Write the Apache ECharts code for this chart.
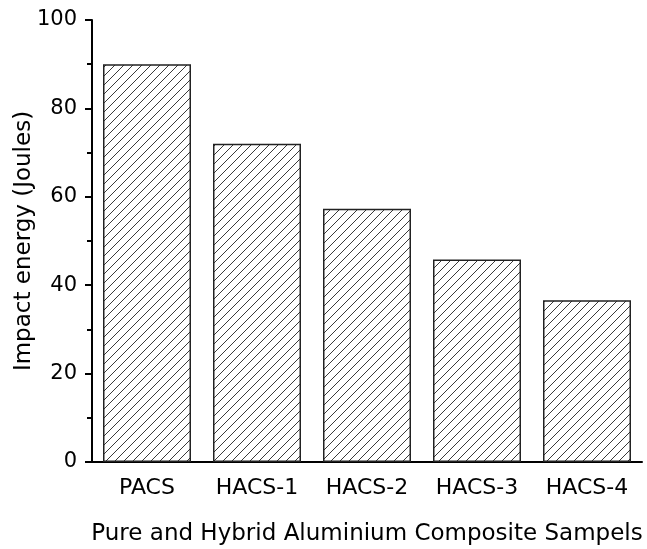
<!DOCTYPE html>
<html>
<head>
<meta charset="utf-8">
<script src="https://cdn.jsdelivr.net/npm/echarts@6/dist/echarts.min.js"></script>
<style>
  html, body { margin: 0; padding: 0; background: #fff; }
  #chart { width: 647px; height: 549px; }
</style>
</head>
<body>
<div id="chart"></div>
<script>
// Impact energy of pure and hybrid aluminium composite samples
const categories = ['PACS', 'HACS-1', 'HACS-2', 'HACS-3', 'HACS-4'];
const impactEnergy = [90, 72, 57.3, 45.8, 36.6];
const yTicks = [0, 20, 40, 60, 80, 100];

// Diagonal hatch tile for the bar fill
function hatchTile(size, color) {
  const c = document.createElement('canvas');
  c.width = size; c.height = size;
  const ctx = c.getContext('2d');
  ctx.fillStyle = '#fff';
  ctx.fillRect(0, 0, size, size);
  ctx.strokeStyle = color;
  ctx.lineWidth = 1;
  ctx.beginPath();
  ctx.moveTo(-1, size + 1); ctx.lineTo(size + 1, -1);
  ctx.moveTo(-2, 2); ctx.lineTo(2, -2);
  ctx.moveTo(size - 2, size + 2); ctx.lineTo(size + 2, size - 2);
  ctx.stroke();
  return c;
}

const font = 'DejaVu Sans';
const chart = echarts.init(document.getElementById('chart'), null, { renderer: 'canvas' });

chart.setOption({
  animation: false,
  backgroundColor: '#fff',
  grid: { left: 92, right: 5, top: 20, bottom: 87, containLabel: false, outerBoundsMode: 'none' },
  xAxis: [
    {
      type: 'category',
      data: categories,
      position: 'bottom',
      name: 'Pure and Hybrid Aluminium Composite Sampels',
      nameLocation: 'middle',
      nameGap: 61,
      nameMoveOverlap: false,
      nameTextStyle: { fontFamily: font, fontSize: 23, color: '#000' },
      axisLine: { lineStyle: { color: '#000', width: 2 } },
      axisTick: { alignWithLabel: true, length: 8, lineStyle: { color: '#000', width: 2 } },
      axisLabel: { fontFamily: font, fontSize: 22, color: '#000', margin: 15 },
      splitLine: { show: false }
    },
    {
      type: 'category',
      data: categories,
      position: 'bottom',
      offset: 0,
      axisLine: { show: false },
      axisTick: { length: 5, lineStyle: { color: '#000', width: 2 } },
      axisLabel: { show: false },
      splitLine: { show: false }
    }
  ],
  yAxis: {
    type: 'value',
    min: yTicks[0],
    max: yTicks[yTicks.length - 1],
    interval: 20,
    name: 'Impact energy (Joules)',
    nameLocation: 'middle',
    nameGap: 56,
    nameMoveOverlap: false,
    nameTextStyle: { fontFamily: font, fontSize: 23, color: '#000' },
    axisLine: { show: true, lineStyle: { color: '#000', width: 2 } },
    axisTick: { show: true, length: 7, lineStyle: { color: '#000', width: 2 } },
    minorTick: { show: true, splitNumber: 2, length: 5, lineStyle: { color: '#000', width: 2 } },
    axisLabel: { fontFamily: font, fontSize: 21, color: '#000', margin: 15 },
    splitLine: { show: false }
  },
  series: [{
    type: 'bar',
    data: impactEnergy,
    barWidth: '80%',
    itemStyle: {
      color: { image: hatchTile(9, '#3a3a3a'), repeat: 'repeat' },
      borderColor: '#222',
      borderWidth: 1.5
    }
  }]
});
</script>
</body>
</html>
